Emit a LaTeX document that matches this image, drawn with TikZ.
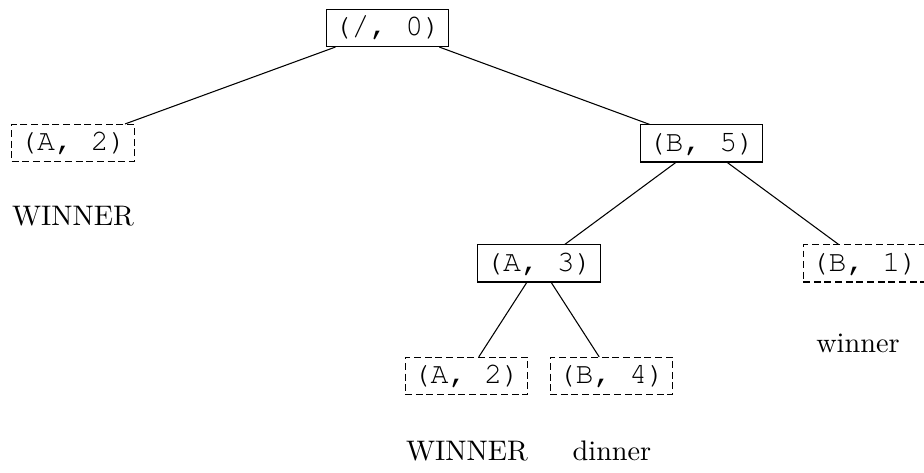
\documentclass[tikz,border=0pt]{standalone}
\usepackage[T1,TU]{fontenc}
\newcommand{\statefont}{\fontencoding{T1}\fontfamily{pcr}\fontseries{m}\fontshape{n}\fontsize{11.2}{12}\selectfont}
\begin{document}
\begin{tikzpicture}[x=0.375pt,y=-0.375pt,
  state/.style={draw, line width=0.4pt, inner sep=0pt,
    minimum width=46pt, minimum height=13.9pt,
    font=\statefont},
  leaf/.style={state, dash pattern=on 2.6pt off 1.4pt},
  tag/.style={inner sep=0pt, font=\fontsize{10.6}{12}\selectfont},
  edge/.style={line width=0.4pt}]
\useasboundingbox (0,0) rectangle (924,473);

% game states
\node[state] (root) at (387.5,28) {(/, 0)};
\node[leaf]  (a2)   at (73,143)   {(A, 2)};
\node[state] (b5)   at (701.5,143.5) {(B, 5)};
\node[state] (a3)   at (539,263.5) {(A, 3)};
\node[leaf]  (b1)   at (864.5,263.5) {(B, 1)};
\node[leaf]  (a2b)  at (466.5,376) {(A, 2)};
\node[leaf]  (b4)   at (611.5,376) {(B, 4)};

% outcome labels under the leaves
\node[tag] (t1) at (73,216)  {WINNER};
\node[tag] (t2) at (858,343) {winner};
\node[tag] (t3) at (467,451) {WINNER};
\node[tag] (t4) at (612,451) {dinner};

% branches
\draw[edge] (root) -- (a2);
\draw[edge] (root) -- (b5);
\draw[edge] (b5) -- (a3);
\draw[edge] (b5) -- (b1);
\draw[edge] (a3) -- (a2b);
\draw[edge] (a3) -- (b4);
\end{tikzpicture}
\end{document}
